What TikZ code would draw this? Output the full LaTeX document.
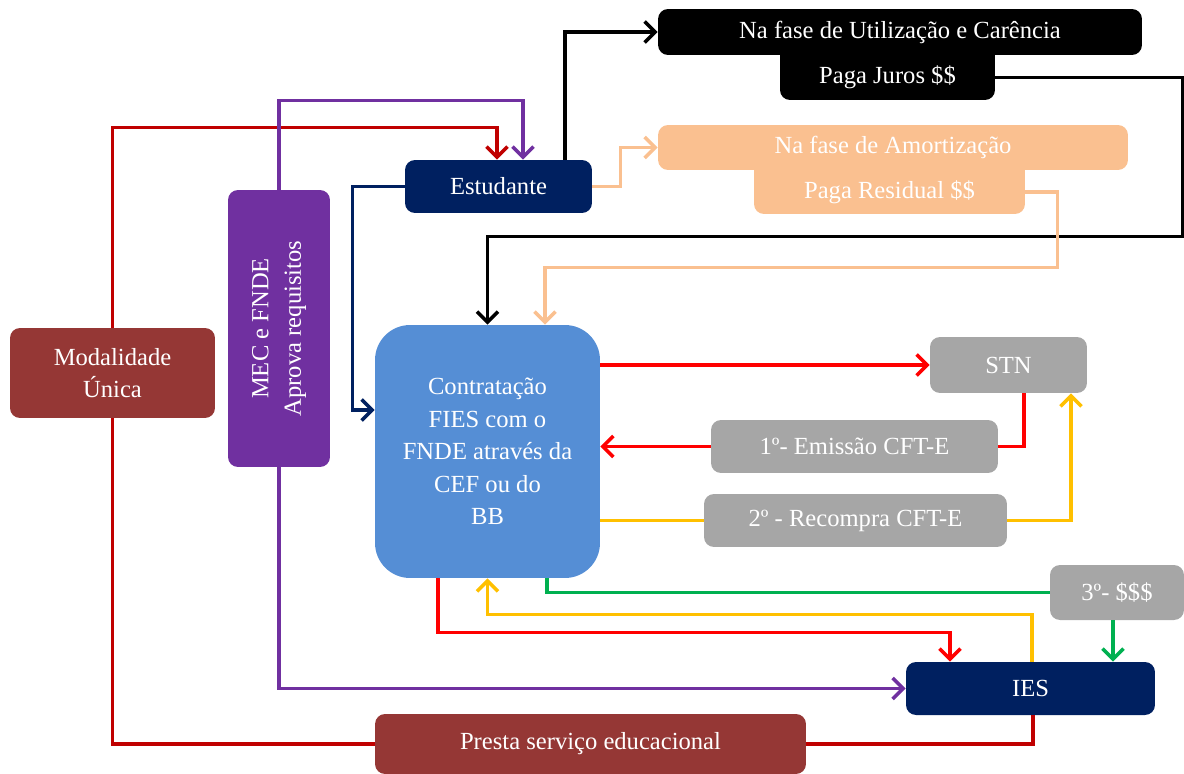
\documentclass[tikz,border=0pt]{standalone}
\usepackage{fontspec}
\setmainfont{Liberation Serif}
\usetikzlibrary{arrows.meta,calc}
\definecolor{navyCol}{HTML}{002060}
\definecolor{peachCol}{HTML}{FAC090}
\definecolor{purpleCol}{HTML}{7030A0}
\definecolor{brickCol}{HTML}{953735}
\definecolor{blueCol}{HTML}{558ED5}
\definecolor{grayCol}{HTML}{A6A6A6}
\definecolor{darkRedCol}{HTML}{C00000}
\definecolor{redCol}{HTML}{FF0000}
\definecolor{yellowCol}{HTML}{FFC000}
\definecolor{greenCol}{HTML}{00B050}
\tikzstyle{boxStyle}=[shape = rectangle, rounded corners = 0.2cm, text = white, inner sep = 2pt, align = center, font = \fontsize{14}{18.5}\selectfont]
\tikzstyle{navyBox}=[boxStyle, fill = navyCol]
\tikzstyle{blackBox}=[boxStyle, fill = black]
\tikzstyle{peachBox}=[boxStyle, fill = peachCol]
\tikzstyle{purpleBox}=[boxStyle, fill = purpleCol]
\tikzstyle{brickBox}=[boxStyle, fill = brickCol]
\tikzstyle{grayBox}=[boxStyle, fill = grayCol]
\tikzstyle{lineStyle}=[line width = 2pt]
\tikzstyle{arrowStyle}=[lineStyle, -{Straight Barb[length = 6pt, width = 12pt]}]
\begin{document}
\begin{tikzpicture}[x = 0.02cm, y = -0.02cm]
\useasboundingbox (0,0) rectangle (1184,774);
\node[navyBox, minimum width = 3.74cm, minimum height = 1.06cm] (estudante) at (498.5,186.5) {Estudante};
\node[blackBox, minimum width = 9.68cm, minimum height = 0.92cm] (fase) at (900,32) {Na fase de Utilização e Carência};
\node[blackBox, minimum width = 4.3cm, minimum height = 0.9cm] (juros) at (887.5,77.5) {Paga Juros \$\$};
\fill[black] ($(juros.north west)+(0,-5)$) rectangle ($(juros.north east)+(0,10)$);
\node[peachBox, minimum width = 9.4cm, minimum height = 0.9cm] (amort) at (893,147.5) {Na fase de Amortização};
\node[peachBox, minimum width = 5.42cm, minimum height = 0.88cm] (residual) at (889.5,192) {Paga Residual \$\$};
\fill[peachCol] ($(residual.north west)+(0,-5)$) rectangle ($(residual.north east)+(0,10)$);
\node[purpleBox, rotate = 90, minimum width = 5.54cm, minimum height = 2.04cm] (mec) at (279,328.5) {MEC e FNDE\\Aprova requisitos};
\node[brickBox, minimum width = 4.1cm, minimum height = 1.8cm] (modal) at (112.5,373) {Modalidade\\Única};
\node[boxStyle, fill = blueCol, rounded corners = 0.7cm, minimum width = 4.5cm, minimum height = 5.06cm] (contrat) at (487.5,451.5) {Contratação\\FIES com o\\FNDE através da\\CEF ou do\\BB};
\node[grayBox, minimum width = 3.14cm, minimum height = 1.12cm] (stn) at (1008.5,365) {STN};
\node[grayBox, minimum width = 5.74cm, minimum height = 1.06cm] (emissao) at (854.5,446.5) {1º- Emissão CFT-E};
\node[grayBox, minimum width = 6.06cm, minimum height = 1.06cm] (recompra) at (855.5,520.5) {2º - Recompra CFT-E};
\node[grayBox, minimum width = 2.68cm, minimum height = 1.1cm] (pag3) at (1117,592.5) {3º- \$\$\$};
\node[navyBox, minimum width = 4.98cm, minimum height = 1.06cm] (ies) at (1030.5,688.5) {IES};
\node[brickBox, minimum width = 8.62cm, minimum height = 1.2cm] (presta) at (590.5,744) {Presta serviço educacional};
\draw[arrowStyle, darkRedCol] (modal.north) |- ($(estudante.north)+(-1.5,-32)$) -- ($(estudante.north)+(-1.5,0)$);
\draw[arrowStyle, purpleCol] (mec.east) |- ($(estudante.north)+(24.5,-59)$) -- ($(estudante.north)+(24.5,0)$);
\draw[arrowStyle, black] ($(estudante.north)+(66.5,0)$) |- (fase.west);
\draw[arrowStyle, peachCol] (estudante.east) -- ++(28,0) |- (amort.west);
\draw[arrowStyle, black] (juros.east) -- ++(187,0) |- ($(contrat.north)+(0,-88)$) -- (contrat.north);
\draw[arrowStyle, peachCol] (residual.east) -- ++(32,0) |- ($(contrat.north)+(57.5,-57)$) -- ($(contrat.north)+(57.5,0)$);
\draw[arrowStyle, navyCol] (estudante.west) -- ++(-52,0) |- ($(contrat.west)+(0,-41.5)$);
\draw[arrowStyle, redCol] (contrat.east |- stn.west) -- (stn.west);
\draw[lineStyle, redCol] ($(stn.south)+(15.5,0)$) |- (emissao.east);
\draw[arrowStyle, redCol] (emissao.west) -- (contrat.east |- emissao.west);
\draw[lineStyle, yellowCol] (contrat.east |- recompra.west) -- (recompra.west);
\draw[arrowStyle, yellowCol] (recompra.east) -| ($(stn.south)+(62.5,0)$);
\draw[lineStyle, greenCol] ($(contrat.south)+(59.5,0)$) |- (pag3.west);
\draw[arrowStyle, greenCol] ($(pag3.south)+(-4,0)$) -- ($(pag3.south |- ies.north)+(-4,0)$);
\draw[arrowStyle, yellowCol] ($(ies.north)+(1.5,0)$) -- ++(0,-47) -| (contrat.south);
\draw[arrowStyle, redCol] ($(contrat.south)+(-49.5,0)$) |- ($(ies.north)+(-80.5,-29)$) -- ($(ies.north)+(-80.5,0)$);
\draw[arrowStyle, purpleCol] (mec.west) |- (ies.west);
\draw[lineStyle, darkRedCol] (modal.south) |- (presta.west);
\draw[lineStyle, darkRedCol] (presta.east) -| ($(ies.south)+(2.5,0)$);
\end{tikzpicture}
\end{document}
